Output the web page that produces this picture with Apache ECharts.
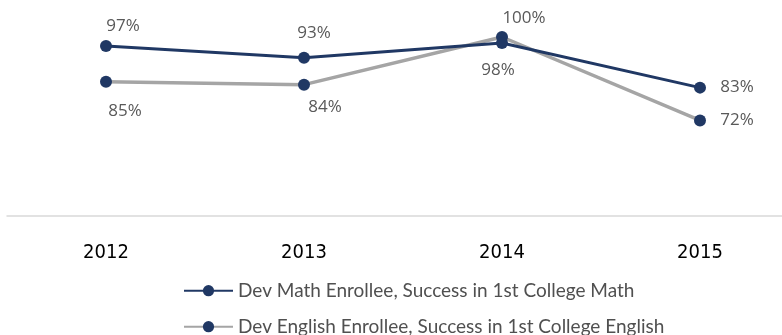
<!DOCTYPE html>
<html>
<head>
<meta charset="utf-8">
<script src="https://cdn.jsdelivr.net/npm/echarts@6/dist/echarts.min.js"></script>
<style>
html,body{margin:0;padding:0;background:#fff;width:782px;height:335px;overflow:hidden;}
#chart{width:800px;height:360px;}
</style>
</head>
<body>
<div id="chart"></div>
<script>
var categories = ['2012', '2013', '2014', '2015'];
var mathName = 'Dev Math Enrollee, Success in 1st College Math';
var englishName = 'Dev English Enrollee, Success in 1st College English';
var mathValues = [97, 93, 98, 83];
var englishValues = [85, 84, 100, 72];

// label placement (styling only)
var mathLabelOffsets = [[17, -20], [10, -25], [-4, 27], [37, 0]];
var englishLabelOffsets = [[19, 29], [21, 23], [22, -19], [37, 0]];

var NAVY = '#203864';
var GRAY = '#A5A5A5';
var LABEL_FONT = "'Open Sans', 'Noto Sans', sans-serif";

function buildData(values, offsets) {
  return values.map(function (v, i) {
    return {
      value: v,
      label: { offset: offsets[i] }
    };
  });
}

var chart = echarts.init(document.getElementById('chart'), null, { renderer: 'canvas' });
chart.setOption({
  animation: false,
  backgroundColor: '#ffffff',
  grid: { left: 7, right: 1, top: 37, bottom: 144.3, containLabel: false },
  xAxis: {
    type: 'category',
    data: categories,
    boundaryGap: true,
    axisLine: { show: true, lineStyle: { color: '#D9D9D9', width: 1.5 } },
    axisTick: { show: false },
    axisLabel: {
      color: '#000000',
      fontSize: 20,
      fontFamily: "'Liberation Sans Narrow', 'DejaVu Sans Condensed', 'Roboto', sans-serif",
      margin: 27
    },
    splitLine: { show: false }
  },
  yAxis: {
    type: 'value',
    min: 40,
    max: 100,
    show: false
  },
  legend: {
    orient: 'vertical',
    left: 183,
    top: 280.7,
    padding: 0,
    itemWidth: 49,
    itemHeight: 14,
    itemGap: 16,
    textStyle: {
      color: '#505050',
      fontSize: 19,
      lineHeight: 20,
      fontFamily: "'Lato', 'Liberation Sans Narrow', sans-serif"
    },
    data: [mathName, englishName]
  },
  series: [
    {
      name: mathName,
      type: 'line',
      data: buildData(mathValues, mathLabelOffsets),
      symbol: 'circle',
      symbolSize: 12,
      lineStyle: { color: NAVY, width: 3 },
      itemStyle: { color: NAVY },
      z: 3,
      label: {
        show: true,
        position: 'inside',
        formatter: '{c}%',
        color: '#595959',
        fontSize: 17,
        fontFamily: LABEL_FONT
      }
    },
    {
      name: englishName,
      type: 'line',
      data: buildData(englishValues, englishLabelOffsets),
      symbol: 'circle',
      symbolSize: 12,
      lineStyle: { color: GRAY, width: 3.5 },
      itemStyle: { color: NAVY },
      z: 2,
      label: {
        show: true,
        position: 'inside',
        formatter: '{c}%',
        color: '#595959',
        fontSize: 17,
        fontFamily: LABEL_FONT
      }
    }
  ]
});
</script>
</body>
</html>
